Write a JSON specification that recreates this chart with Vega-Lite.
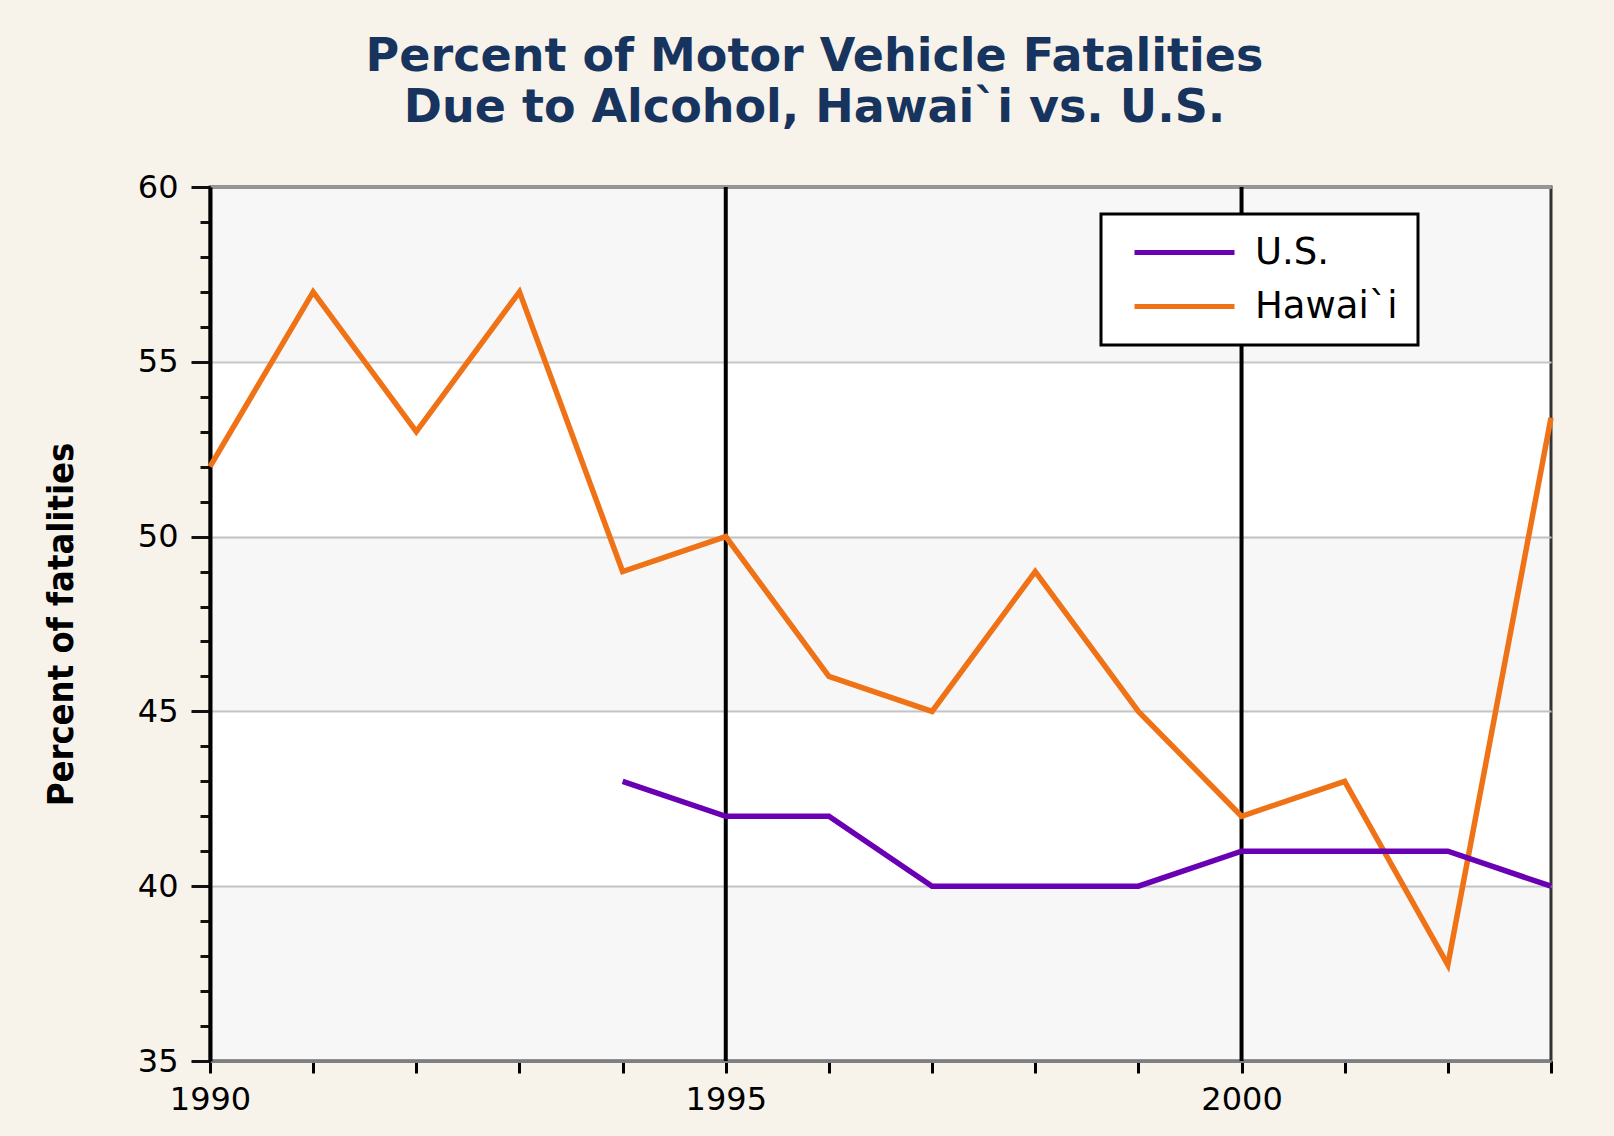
{
  "$schema": "https://vega.github.io/schema/vega-lite/v6.json",
  "autosize": "none",
  "width": 1341,
  "height": 874,
  "padding": {"left": 210, "top": 187, "right": 63, "bottom": 75},
  "background": "#F7F3EA",
  "title": {
    "text": ["Percent of Motor Vehicle Fatalities", "Due to Alcohol, Hawai`i vs. U.S."],
    "anchor": "middle",
    "dx": -66,
    "offset": 39,
    "font": "DejaVu Sans",
    "fontSize": 46,
    "fontWeight": "bold",
    "color": "#17345F",
    "lineHeight": 51
  },
  "config": {
    "view": {"fill": "#FFFFFF", "stroke": "#333333", "strokeWidth": 3}
  },
  "resolve": {"axis": {"x": "independent", "y": "independent"}},
  "layer": [
    {
      "data": {"values": [{"lo": 35, "hi": 40}, {"lo": 45, "hi": 50}, {"lo": 55, "hi": 60}]},
      "mark": {"type": "rect", "fill": "#000000", "fillOpacity": 0.03},
      "encoding": {
        "y": {
          "field": "lo", "type": "quantitative",
          "scale": {"domain": [35, 60], "nice": false, "zero": false},
          "axis": {
            "orient": "left",
            "values": [35, 40, 45, 50, 55, 60],
            "tickSize": 19, "tickWidth": 3, "tickColor": "#111111",
            "labelFont": "DejaVu Sans", "labelFontSize": 32, "labelColor": "#000000", "labelPadding": 13,
            "grid": true, "gridColor": "#C8C8C8", "gridWidth": 2,
            "domain": false,
            "title": "Percent of fatalities",
            "titleFont": "Liberation Sans Narrow, DejaVu Sans Condensed, sans-serif",
            "titleFontSize": 36, "titleFontWeight": "bold", "titleColor": "#000000",
            "titleX": -149, "titleY": 437, "titleAngle": -90,
            "titleAlign": "center", "titleBaseline": "middle"
          }
        },
        "y2": {"field": "hi"}
      }
    },
    {
      "data": {"values": [{"year": 1995}, {"year": 2000}]},
      "mark": {"type": "rule", "color": "#000000", "strokeWidth": 4},
      "encoding": {
        "x": {
          "field": "year", "type": "quantitative",
          "scale": {"domain": [1990, 2003], "nice": false, "zero": false},
          "axis": {
            "orient": "top", "ticks": false, "labels": false, "grid": false,
            "domain": true, "domainColor": "#999999", "domainWidth": 3, "title": null
          }
        }
      }
    },
    {
      "data": {
        "values": [
          {"year": 1990, "series": "Hawai`i", "value": 52},
          {"year": 1991, "series": "Hawai`i", "value": 57},
          {"year": 1992, "series": "Hawai`i", "value": 53},
          {"year": 1993, "series": "Hawai`i", "value": 57},
          {"year": 1994, "series": "Hawai`i", "value": 49},
          {"year": 1995, "series": "Hawai`i", "value": 50},
          {"year": 1996, "series": "Hawai`i", "value": 46},
          {"year": 1997, "series": "Hawai`i", "value": 45},
          {"year": 1998, "series": "Hawai`i", "value": 49},
          {"year": 1999, "series": "Hawai`i", "value": 45},
          {"year": 2000, "series": "Hawai`i", "value": 42},
          {"year": 2001, "series": "Hawai`i", "value": 43},
          {"year": 2002, "series": "Hawai`i", "value": 37.75},
          {"year": 2003, "series": "Hawai`i", "value": 53.4},
          {"year": 1994, "series": "U.S.", "value": 43},
          {"year": 1995, "series": "U.S.", "value": 42},
          {"year": 1996, "series": "U.S.", "value": 42},
          {"year": 1997, "series": "U.S.", "value": 40},
          {"year": 1998, "series": "U.S.", "value": 40},
          {"year": 1999, "series": "U.S.", "value": 40},
          {"year": 2000, "series": "U.S.", "value": 41},
          {"year": 2001, "series": "U.S.", "value": 41},
          {"year": 2002, "series": "U.S.", "value": 41},
          {"year": 2003, "series": "U.S.", "value": 40}
        ]
      },
      "mark": {"type": "line", "strokeWidth": 5.5},
      "encoding": {
        "x": {
          "field": "year", "type": "quantitative",
          "scale": {"domain": [1990, 2003], "nice": false, "zero": false},
          "axis": {
            "orient": "bottom",
            "values": [1990, 1991, 1992, 1993, 1994, 1995, 1996, 1997, 1998, 1999, 2000, 2001, 2002, 2003],
            "format": "d",
            "labelExpr": "datum.value % 5 === 0 ? datum.label : ''",
            "tickSize": 12, "tickWidth": 3, "tickColor": "#000000",
            "domainColor": "#808080", "domainWidth": 3,
            "labelFont": "DejaVu Sans", "labelFontSize": 32, "labelColor": "#000000", "labelPadding": 11,
            "labelFlush": false, "labelOverlap": false,
            "grid": false, "title": null
          }
        },
        "y": {
          "field": "value", "type": "quantitative",
          "scale": {"domain": [35, 60], "nice": false, "zero": false},
          "axis": {
            "orient": "left",
            "values": [35, 36, 37, 38, 39, 40, 41, 42, 43, 44, 45, 46, 47, 48, 49, 50, 51, 52, 53, 54, 55, 56, 57, 58, 59, 60],
            "tickSize": 10, "tickWidth": 3, "tickColor": "#111111",
            "labels": false, "grid": false,
            "domain": true, "domainColor": "#000000", "domainWidth": 4,
            "title": null
          }
        },
        "color": {
          "field": "series", "type": "nominal",
          "scale": {"domain": ["U.S.", "Hawai`i"], "range": ["#6A00B4", "#EF7316"]},
          "legend": {
            "orient": "none", "legendX": 891, "legendY": 27,
            "title": null,
            "symbolType": "M-5,0H5", "symbolSize": 400, "symbolStrokeWidth": 5,
            "labelFont": "DejaVu Sans", "labelFontSize": 37, "labelColor": "#000000", "labelOffset": 52,
            "fillColor": "#FFFFFF", "strokeColor": "#000000",
            "padding": 20, "symbolOffset": 45, "rowPadding": 16,
            "encode": {"legend": {"update": {"strokeWidth": {"value": 3}, "width": {"value": 371}}}}
          }
        }
      }
    }
  ]
}
